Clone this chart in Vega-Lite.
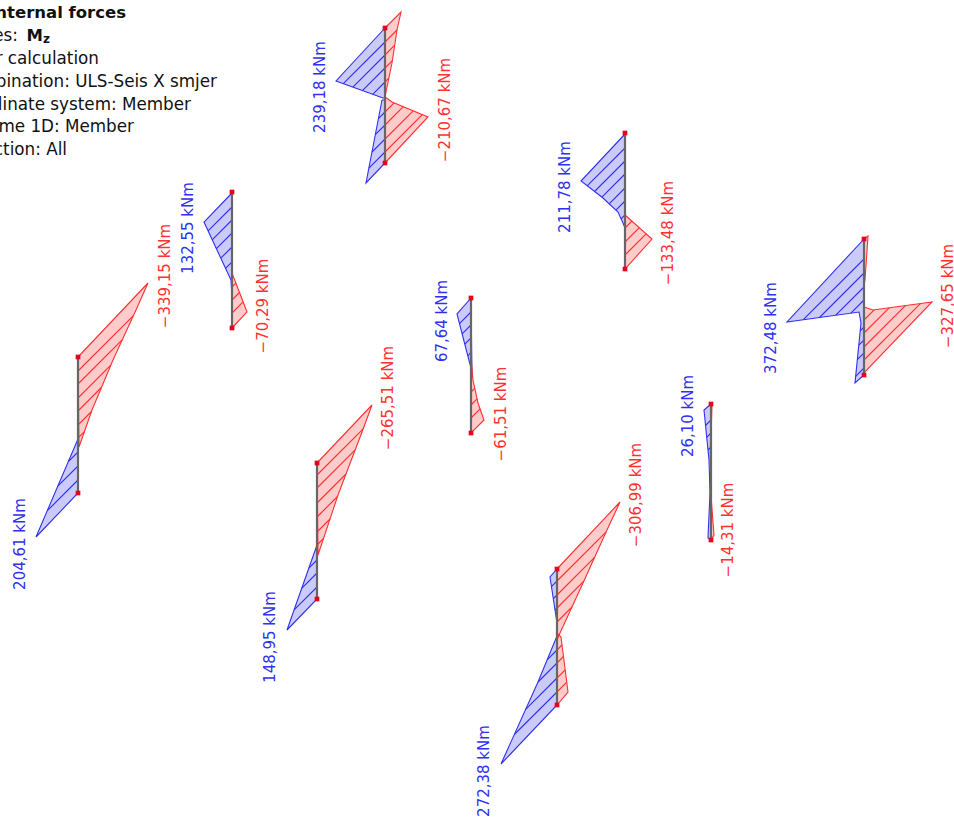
{"$schema":"https://vega.github.io/schema/vega-lite/v6.json","width":954,"height":819,"autosize":{"type":"none"},"padding":0,"background":"white","view":{"stroke":null},
"datasets":{
"polys":[
{"p":"A1","k":"red","i":0,"x":78,"y":357},{"p":"A1","k":"red","i":1,"x":148,"y":283},{"p":"A1","k":"red","i":2,"x":136,"y":310},{"p":"A1","k":"red","i":3,"x":113,"y":360},{"p":"A1","k":"red","i":4,"x":92,"y":410},{"p":"A1","k":"red","i":5,"x":79,"y":447},{"p":"A1","k":"red","i":6,"x":78,"y":357},
{"p":"A2","k":"blue","i":0,"x":78,"y":439},{"p":"A2","k":"blue","i":1,"x":36,"y":537},{"p":"A2","k":"blue","i":2,"x":78,"y":493},{"p":"A2","k":"blue","i":3,"x":78,"y":439},
{"p":"B1","k":"blue","i":0,"x":232,"y":193},{"p":"B1","k":"blue","i":1,"x":204,"y":222},{"p":"B1","k":"blue","i":2,"x":217,"y":250},{"p":"B1","k":"blue","i":3,"x":231,"y":280},{"p":"B1","k":"blue","i":4,"x":232,"y":298},{"p":"B1","k":"blue","i":5,"x":232,"y":193},
{"p":"B2","k":"red","i":0,"x":232,"y":273},{"p":"B2","k":"red","i":1,"x":247,"y":312},{"p":"B2","k":"red","i":2,"x":232,"y":328},{"p":"B2","k":"red","i":3,"x":232,"y":273},
{"p":"C1","k":"blue","i":0,"x":385,"y":28},{"p":"C1","k":"blue","i":1,"x":336,"y":81},{"p":"C1","k":"blue","i":2,"x":383,"y":98},{"p":"C1","k":"blue","i":3,"x":385,"y":98},{"p":"C1","k":"blue","i":4,"x":385,"y":28},
{"p":"C2","k":"blue","i":0,"x":382,"y":100},{"p":"C2","k":"blue","i":1,"x":366,"y":183},{"p":"C2","k":"blue","i":2,"x":385,"y":163},{"p":"C2","k":"blue","i":3,"x":385,"y":100},{"p":"C2","k":"blue","i":4,"x":382,"y":100},
{"p":"C3","k":"red","i":0,"x":385,"y":28},{"p":"C3","k":"red","i":1,"x":401,"y":12},{"p":"C3","k":"red","i":2,"x":397,"y":30},{"p":"C3","k":"red","i":3,"x":392,"y":63},{"p":"C3","k":"red","i":4,"x":387,"y":87},{"p":"C3","k":"red","i":5,"x":385,"y":97},{"p":"C3","k":"red","i":6,"x":385,"y":28},
{"p":"C4","k":"red","i":0,"x":385,"y":97},{"p":"C4","k":"red","i":1,"x":392,"y":102},{"p":"C4","k":"red","i":2,"x":428,"y":117},{"p":"C4","k":"red","i":3,"x":385,"y":163},{"p":"C4","k":"red","i":4,"x":385,"y":97},
{"p":"D1","k":"blue","i":0,"x":625,"y":134},{"p":"D1","k":"blue","i":1,"x":581,"y":181},{"p":"D1","k":"blue","i":2,"x":603,"y":198},{"p":"D1","k":"blue","i":3,"x":618,"y":212},{"p":"D1","k":"blue","i":4,"x":623,"y":223},{"p":"D1","k":"blue","i":5,"x":625,"y":228},{"p":"D1","k":"blue","i":6,"x":625,"y":134},
{"p":"D2","k":"red","i":0,"x":625,"y":215},{"p":"D2","k":"red","i":1,"x":652,"y":239},{"p":"D2","k":"red","i":2,"x":625,"y":269},{"p":"D2","k":"red","i":3,"x":625,"y":215},
{"p":"E1","k":"blue","i":0,"x":471,"y":298},{"p":"E1","k":"blue","i":1,"x":457,"y":314},{"p":"E1","k":"blue","i":2,"x":465,"y":345},{"p":"E1","k":"blue","i":3,"x":471,"y":368},{"p":"E1","k":"blue","i":4,"x":472,"y":378},{"p":"E1","k":"blue","i":5,"x":471,"y":298},
{"p":"E2","k":"red","i":0,"x":471,"y":357},{"p":"E2","k":"red","i":1,"x":473,"y":380},{"p":"E2","k":"red","i":2,"x":478,"y":403},{"p":"E2","k":"red","i":3,"x":484,"y":420},{"p":"E2","k":"red","i":4,"x":471,"y":433},{"p":"E2","k":"red","i":5,"x":471,"y":357},
{"p":"F1","k":"red","i":0,"x":317,"y":463},{"p":"F1","k":"red","i":1,"x":372,"y":405},{"p":"F1","k":"red","i":2,"x":362,"y":432},{"p":"F1","k":"red","i":3,"x":338,"y":495},{"p":"F1","k":"red","i":4,"x":318,"y":555},{"p":"F1","k":"red","i":5,"x":317,"y":463},
{"p":"F2","k":"blue","i":0,"x":317,"y":545},{"p":"F2","k":"blue","i":1,"x":287,"y":630},{"p":"F2","k":"blue","i":2,"x":317,"y":599},{"p":"F2","k":"blue","i":3,"x":317,"y":545},
{"p":"G1","k":"blue","i":0,"x":711,"y":404},{"p":"G1","k":"blue","i":1,"x":704,"y":410},{"p":"G1","k":"blue","i":2,"x":709,"y":460},{"p":"G1","k":"blue","i":3,"x":710,"y":493},{"p":"G1","k":"blue","i":4,"x":708,"y":538},{"p":"G1","k":"blue","i":5,"x":711,"y":540},{"p":"G1","k":"blue","i":6,"x":711,"y":404},
{"p":"G2","k":"red","i":0,"x":710,"y":483},{"p":"G2","k":"red","i":1,"x":714,"y":535},{"p":"G2","k":"red","i":2,"x":711,"y":540},{"p":"G2","k":"red","i":3,"x":710,"y":483},
{"p":"G3","k":"red","i":0,"x":711,"y":404},{"p":"G3","k":"red","i":1,"x":712,"y":404},{"p":"G3","k":"red","i":2,"x":710,"y":470},{"p":"G3","k":"red","i":3,"x":711,"y":404},
{"p":"H1","k":"blue","i":0,"x":864,"y":239},{"p":"H1","k":"blue","i":1,"x":787,"y":322},{"p":"H1","k":"blue","i":2,"x":859,"y":312},{"p":"H1","k":"blue","i":3,"x":861,"y":323},{"p":"H1","k":"blue","i":4,"x":855,"y":383},{"p":"H1","k":"blue","i":5,"x":864,"y":375},{"p":"H1","k":"blue","i":6,"x":864,"y":239},
{"p":"H2","k":"red","i":0,"x":864,"y":239},{"p":"H2","k":"red","i":1,"x":868,"y":236},{"p":"H2","k":"red","i":2,"x":865,"y":280},{"p":"H2","k":"red","i":3,"x":864,"y":285},{"p":"H2","k":"red","i":4,"x":864,"y":239},
{"p":"H3","k":"red","i":0,"x":864,"y":307},{"p":"H3","k":"red","i":1,"x":873,"y":310},{"p":"H3","k":"red","i":2,"x":932,"y":302},{"p":"H3","k":"red","i":3,"x":864,"y":373},{"p":"H3","k":"red","i":4,"x":864,"y":307},
{"p":"I1","k":"red","i":0,"x":557,"y":569},{"p":"I1","k":"red","i":1,"x":620,"y":502},{"p":"I1","k":"red","i":2,"x":607,"y":530},{"p":"I1","k":"red","i":3,"x":583,"y":583},{"p":"I1","k":"red","i":4,"x":560,"y":633},{"p":"I1","k":"red","i":5,"x":557,"y":640},{"p":"I1","k":"red","i":6,"x":557,"y":569},
{"p":"I2","k":"blue","i":0,"x":557,"y":569},{"p":"I2","k":"blue","i":1,"x":550,"y":577},{"p":"I2","k":"blue","i":2,"x":557,"y":623},{"p":"I2","k":"blue","i":3,"x":557,"y":569},
{"p":"I3","k":"red","i":0,"x":557,"y":633},{"p":"I3","k":"red","i":1,"x":561,"y":637},{"p":"I3","k":"red","i":2,"x":568,"y":692},{"p":"I3","k":"red","i":3,"x":557,"y":705},{"p":"I3","k":"red","i":4,"x":557,"y":633},
{"p":"I4","k":"blue","i":0,"x":557,"y":636},{"p":"I4","k":"blue","i":1,"x":538,"y":682},{"p":"I4","k":"blue","i":2,"x":501,"y":764},{"p":"I4","k":"blue","i":3,"x":557,"y":705},{"p":"I4","k":"blue","i":4,"x":557,"y":636}
],
"hatch":[
{"k":"red","x":78,"y":371,"x2":133.4,"y2":315.6},{"k":"red","x":78,"y":384,"x2":122.4,"y2":339.6},{"k":"red","x":78,"y":398,"x2":110.8,"y2":365.2},{"k":"red","x":78,"y":411,"x2":101.4,"y2":387.5},{"k":"red","x":78,"y":425,"x2":91.5,"y2":411.5},{"k":"red","x":78,"y":438,"x2":84.4,"y2":431.6},
{"k":"blue","x":78,"y":452,"x2":68.3,"y2":461.7},{"k":"blue","x":78,"y":466,"x2":57.8,"y2":486.2},{"k":"blue","x":78,"y":480,"x2":47.3,"y2":510.7},
{"k":"blue","x":232,"y":207,"x2":208.1,"y2":230.9},{"k":"blue","x":232,"y":220,"x2":212.2,"y2":239.8},{"k":"blue","x":232,"y":233,"x2":216.4,"y2":248.6},{"k":"blue","x":232,"y":247,"x2":220.8,"y2":258.2},{"k":"blue","x":232,"y":262,"x2":225.5,"y2":268.3},
{"k":"red","x":232,"y":287,"x2":235.9,"y2":283.1},{"k":"red","x":232,"y":300,"x2":239.5,"y2":292.5},{"k":"red","x":232,"y":313,"x2":243.1,"y2":301.9},
{"k":"blue","x":385,"y":42,"x2":343.3,"y2":83.7},{"k":"blue","x":385,"y":55,"x2":352.9,"y2":87.1},{"k":"blue","x":385,"y":68,"x2":362.4,"y2":90.6},{"k":"blue","x":385,"y":82,"x2":372.7,"y2":94.3},
{"k":"blue","x":385,"y":112,"x2":378.4,"y2":118.6},{"k":"blue","x":385,"y":125,"x2":375.3,"y2":134.7},{"k":"blue","x":385,"y":139,"x2":372,"y2":152},{"k":"blue","x":385,"y":152,"x2":368.9,"y2":168.1},
{"k":"red","x":385,"y":42,"x2":397,"y2":30},{"k":"red","x":385,"y":55,"x2":394.7,"y2":45.2},{"k":"red","x":385,"y":68,"x2":392.4,"y2":60.6},{"k":"red","x":385,"y":82,"x2":388.8,"y2":78.2},
{"k":"red","x":385,"y":112,"x2":394.1,"y2":102.9},{"k":"red","x":385,"y":125,"x2":403.3,"y2":106.7},{"k":"red","x":385,"y":139,"x2":413.2,"y2":110.8},{"k":"red","x":385,"y":152,"x2":422.3,"y2":114.6},
{"k":"blue","x":625,"y":148,"x2":587.2,"y2":185.8},{"k":"blue","x":625,"y":161,"x2":594.5,"y2":191.5},{"k":"blue","x":625,"y":174,"x2":601.9,"y2":197.1},{"k":"blue","x":625,"y":188,"x2":609.2,"y2":203.8},{"k":"blue","x":625,"y":201,"x2":615.9,"y2":210.1},{"k":"blue","x":625,"y":215,"x2":621.1,"y2":218.9},
{"k":"red","x":625,"y":228,"x2":631.9,"y2":221.1},{"k":"red","x":625,"y":242,"x2":639.3,"y2":227.7},{"k":"red","x":625,"y":255,"x2":646.2,"y2":233.8},
{"k":"blue","x":471,"y":312,"x2":459.5,"y2":323.6},{"k":"blue","x":471,"y":325,"x2":462.1,"y2":333.9},{"k":"blue","x":471,"y":338,"x2":464.8,"y2":344.1},{"k":"blue","x":471,"y":352,"x2":467.9,"y2":356},
{"k":"red","x":471,"y":392,"x2":474.8,"y2":388.2},{"k":"red","x":471,"y":405,"x2":477.1,"y2":398.9},{"k":"red","x":471,"y":418,"x2":480.1,"y2":408.9},
{"k":"red","x":317,"y":475,"x2":363.2,"y2":428.8},{"k":"red","x":317,"y":488,"x2":355.2,"y2":449.8},{"k":"red","x":317,"y":503,"x2":346,"y2":474},{"k":"red","x":317,"y":517,"x2":337.5,"y2":496.5},{"k":"red","x":317,"y":532,"x2":330,"y2":519},{"k":"red","x":317,"y":545,"x2":323.5,"y2":538.5},
{"k":"blue","x":317,"y":560,"x2":308.8,"y2":568.2},{"k":"blue","x":317,"y":573,"x2":301.7,"y2":588.3},{"k":"blue","x":317,"y":587,"x2":294.1,"y2":609.9},
{"k":"blue","x":711,"y":420,"x2":705.5,"y2":425.5},{"k":"blue","x":711,"y":433,"x2":706.7,"y2":437.3},{"k":"blue","x":711,"y":447,"x2":708,"y2":450},
{"k":"blue","x":864,"y":259,"x2":803.3,"y2":319.7},{"k":"blue","x":864,"y":273,"x2":819.5,"y2":317.5},{"k":"blue","x":864,"y":287,"x2":835.8,"y2":315.2},{"k":"blue","x":864,"y":300,"x2":850.9,"y2":313.1},
{"k":"blue","x":864,"y":327,"x2":860.2,"y2":330.8},{"k":"blue","x":864,"y":340,"x2":858.8,"y2":345.2},{"k":"blue","x":864,"y":353,"x2":857.3,"y2":359.7},{"k":"blue","x":864,"y":368,"x2":855.7,"y2":376.3},
{"k":"red","x":864,"y":320,"x2":874.2,"y2":309.8},{"k":"red","x":864,"y":333,"x2":889.2,"y2":307.8},{"k":"red","x":864,"y":347,"x2":905.4,"y2":305.6},{"k":"red","x":864,"y":360,"x2":920.4,"y2":303.6},
{"k":"red","x":557,"y":581,"x2":606.2,"y2":531.8},{"k":"red","x":557,"y":595,"x2":594.6,"y2":557.4},{"k":"red","x":557,"y":608,"x2":583.8,"y2":581.2},{"k":"red","x":557,"y":622,"x2":572,"y2":607},
{"k":"blue","x":557,"y":581,"x2":551.5,"y2":586.6},{"k":"blue","x":557,"y":595,"x2":553.3,"y2":598.6},{"k":"blue","x":557,"y":608,"x2":555,"y2":610},
{"k":"red","x":557,"y":650,"x2":562,"y2":645},{"k":"red","x":557,"y":663,"x2":563.5,"y2":656.5},{"k":"red","x":557,"y":678,"x2":565.2,"y2":669.8},{"k":"red","x":557,"y":692,"x2":566.8,"y2":682.1},
{"k":"blue","x":557,"y":650,"x2":547.1,"y2":659.9},{"k":"blue","x":557,"y":663,"x2":538,"y2":682},{"k":"blue","x":557,"y":678,"x2":525.7,"y2":709.3},{"k":"blue","x":557,"y":692,"x2":514.3,"y2":734.5}
],
"members":[
{"x":78,"y":357,"x2":78,"y2":493},{"x":232,"y":192,"x2":232,"y2":328},{"x":385,"y":28,"x2":385,"y2":163},{"x":625,"y":133,"x2":625,"y2":269},{"x":471,"y":298,"x2":471,"y2":433},{"x":317,"y":463,"x2":317,"y2":599},{"x":711,"y":404,"x2":711,"y2":540},{"x":864,"y":239,"x2":864,"y2":375},{"x":557,"y":569,"x2":557,"y2":705}
],
"nodes":[
{"x":78,"y":357},{"x":78,"y":493},{"x":232,"y":192},{"x":232,"y":328},{"x":385,"y":28},{"x":385,"y":163},{"x":625,"y":133},{"x":625,"y":269},{"x":471,"y":298},{"x":471,"y":433},{"x":317,"y":463},{"x":317,"y":599},{"x":711,"y":404},{"x":711,"y":540},{"x":864,"y":239},{"x":864,"y":375},{"x":557,"y":569},{"x":557,"y":705}
],
"labels":[
{"t":"239,18 kNm","k":"blue","x":320,"y":87},{"t":"−210,67 kNm","k":"red","x":445,"y":110},{"t":"132,55 kNm","k":"blue","x":188,"y":228},{"t":"−339,15 kNm","k":"red","x":165,"y":276},{"t":"−70,29 kNm","k":"red","x":263,"y":306},{"t":"204,61 kNm","k":"blue","x":20,"y":544},{"t":"211,78 kNm","k":"blue","x":565,"y":187},{"t":"−133,48 kNm","k":"red","x":668,"y":233},{"t":"67,64 kNm","k":"blue","x":442,"y":321},{"t":"−61,51 kNm","k":"red","x":501,"y":414},{"t":"−265,51 kNm","k":"red","x":388,"y":398},{"t":"148,95 kNm","k":"blue","x":270,"y":637},{"t":"26,10 kNm","k":"blue","x":688,"y":416},{"t":"−14,31 kNm","k":"red","x":728,"y":530},{"t":"372,48 kNm","k":"blue","x":771,"y":328},{"t":"−327,65 kNm","k":"red","x":948,"y":296},{"t":"−306,99 kNm","k":"red","x":636,"y":495},{"t":"272,38 kNm","k":"blue","x":484,"y":771}
],
"header":[
{"t":"Values:","x":18,"y":36},{"t":"Linear calculation","x":99,"y":59},{"t":"Combination: ULS-Seis X smjer","x":217,"y":82},{"t":"Coordinate system: Member","x":191,"y":105},{"t":"Frame 1D: Member","x":134,"y":127},{"t":"Section: All","x":67,"y":150}
],
"headerBold":[
{"t":"Internal forces","x":126,"y":13},{"t":"M","x":43,"y":36}
],
"sub":[{"t":"z","x":50,"y":39}]
},
"layer":[
{"data":{"name":"polys"},"mark":{"type":"line","strokeWidth":1.1,"fillOpacity":0.25,"interpolate":"linear"},
 "encoding":{"x":{"field":"x","type":"quantitative","scale":{"domain":[0,954],"nice":false,"zero":false},"axis":null},"y":{"field":"y","type":"quantitative","scale":{"domain":[0,819],"nice":false,"zero":false,"reverse":true},"axis":null},"detail":{"field":"p"},"order":{"field":"i","type":"quantitative"},"stroke":{"field":"k","type":"nominal","scale":{"domain":["blue","red"],"range":["#3030f0","#ff3030"]},"legend":null},"fill":{"field":"k","type":"nominal","scale":{"domain":["blue","red"],"range":["#3030f0","#ff3030"]},"legend":null}}},
{"data":{"name":"hatch"},"mark":{"type":"rule","strokeWidth":1.1},
 "encoding":{"x":{"field":"x","type":"quantitative"},"y":{"field":"y","type":"quantitative"},"x2":{"field":"x2"},"y2":{"field":"y2"},"color":{"field":"k","type":"nominal","scale":{"domain":["blue","red"],"range":["#3030f0","#ff3030"]},"legend":null}}},
{"data":{"name":"members"},"mark":{"type":"rule","strokeWidth":2.2,"color":"#666666"},
 "encoding":{"x":{"field":"x","type":"quantitative"},"y":{"field":"y","type":"quantitative"},"x2":{"field":"x2"},"y2":{"field":"y2"}}},
{"data":{"name":"nodes"},"mark":{"type":"square","size":22,"color":"#e8001c","opacity":1},
 "encoding":{"x":{"field":"x","type":"quantitative"},"y":{"field":"y","type":"quantitative"}}},
{"data":{"name":"labels"},"mark":{"type":"text","angle":270,"align":"center","baseline":"middle","font":"DejaVu Sans","fontSize":15},
 "encoding":{"x":{"field":"x","type":"quantitative"},"y":{"field":"y","type":"quantitative"},"text":{"field":"t"},"color":{"field":"k","type":"nominal","scale":{"domain":["blue","red"],"range":["#4444f0","#ff4444"]},"legend":null}}},
{"data":{"name":"header"},"mark":{"type":"text","align":"right","baseline":"middle","font":"DejaVu Sans","fontSize":16.8,"color":"#111111"},
 "encoding":{"x":{"field":"x","type":"quantitative"},"y":{"field":"y","type":"quantitative"},"text":{"field":"t"}}},
{"data":{"name":"headerBold"},"mark":{"type":"text","align":"right","baseline":"middle","font":"DejaVu Sans","fontSize":16.5,"fontWeight":"bold","color":"#111111"},
 "encoding":{"x":{"field":"x","type":"quantitative"},"y":{"field":"y","type":"quantitative"},"text":{"field":"t"}}},
{"data":{"name":"sub"},"mark":{"type":"text","align":"right","baseline":"middle","font":"DejaVu Sans","fontSize":12,"fontWeight":"bold","color":"#111111"},
 "encoding":{"x":{"field":"x","type":"quantitative"},"y":{"field":"y","type":"quantitative"},"text":{"field":"t"}}}
]}
